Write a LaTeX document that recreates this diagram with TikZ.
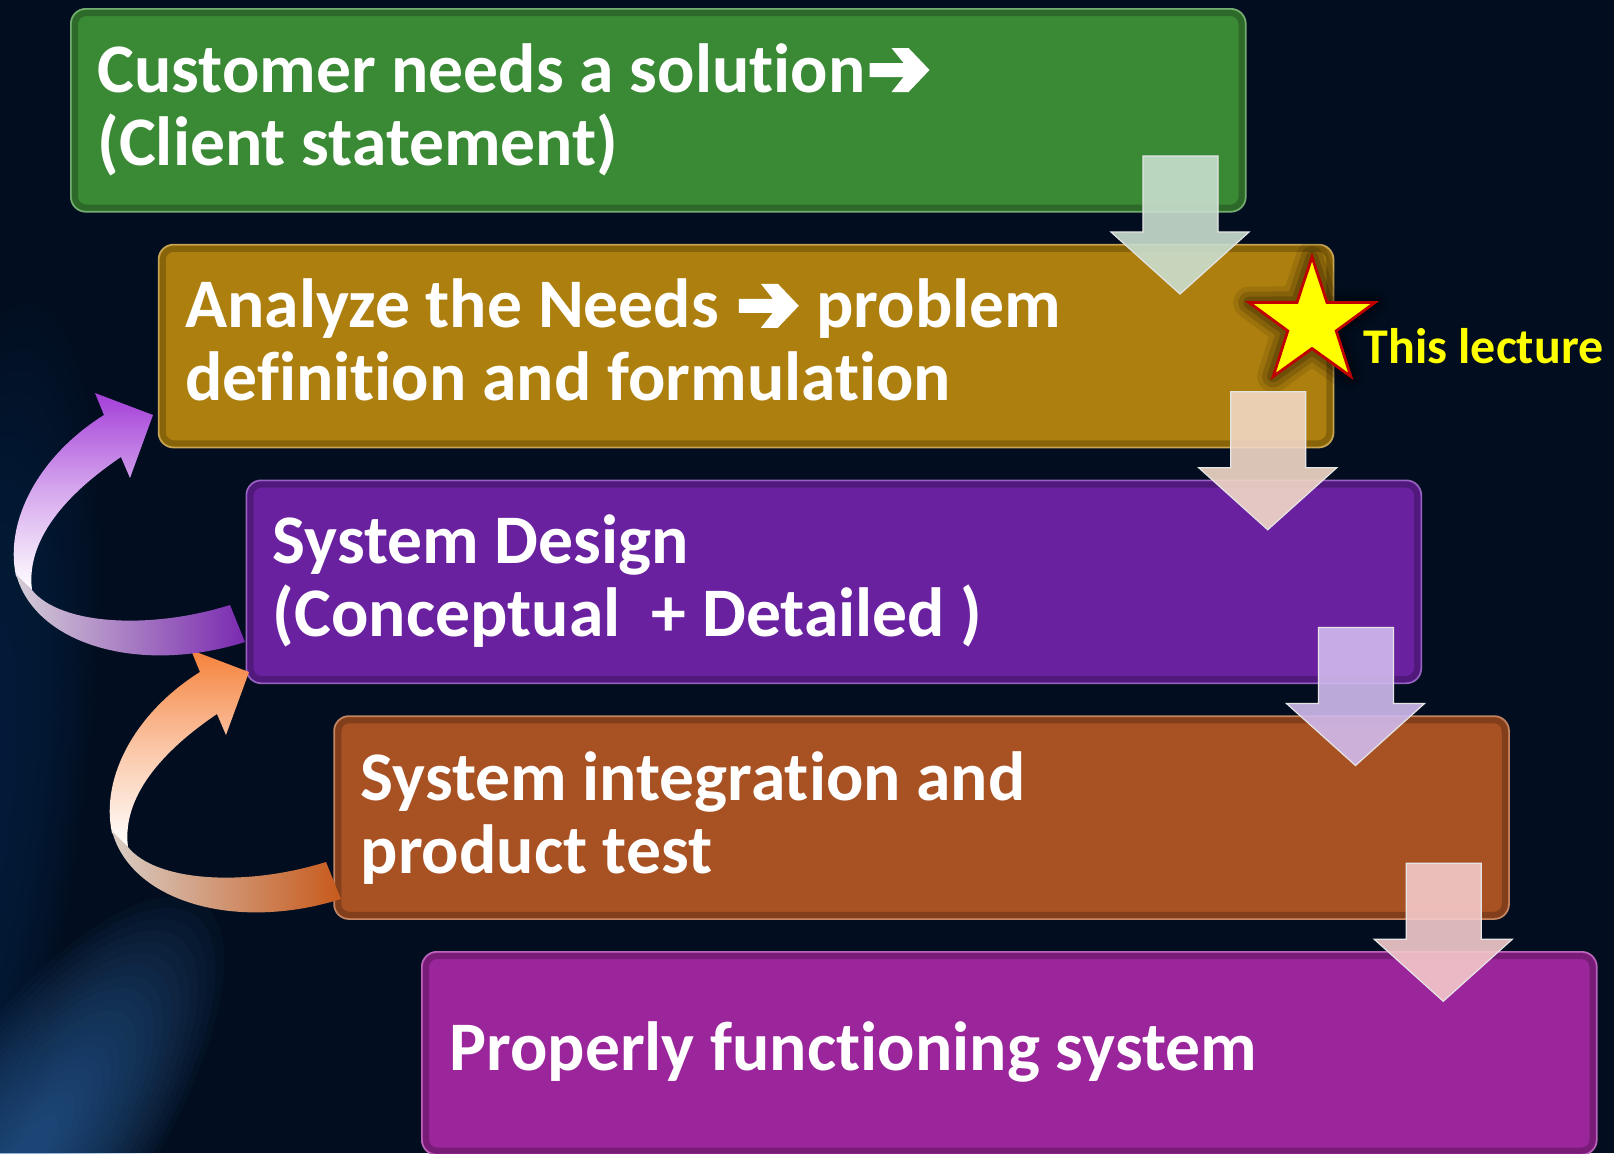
\documentclass[tikz,border=0pt]{standalone}
\usepackage{fontspec}
\setmainfont{Carlito}[Ligatures=NoCommon]
\usetikzlibrary{calc}
\definecolor{bgc}{HTML}{020E20}
\definecolor{hazeA}{HTML}{14386E}
\definecolor{hazeB}{HTML}{3C78BC}
\definecolor{cGreen}{HTML}{3A8935}
\definecolor{cGold}{HTML}{AD7F0E}
\definecolor{cPurple}{HTML}{6A21A0}
\definecolor{cRust}{HTML}{A85223}
\definecolor{cMagenta}{HTML}{9B259B}
\definecolor{aOne}{HTML}{C9DFCF}
\definecolor{aTwo}{HTML}{F2D8C6}
\definecolor{aThree}{HTML}{D0BBEE}
\definecolor{aFour}{HTML}{F4CACA}
\definecolor{pTop}{HTML}{A43FD8}
\definecolor{pLeft}{HTML}{D4CCD6}
\definecolor{pRight}{HTML}{7A2AB0}
\definecolor{oTop}{HTML}{F5823C}
\definecolor{oLeft}{HTML}{D8CCC4}
\definecolor{oRight}{HTML}{C85A1C}
\definecolor{starY}{HTML}{FFFF00}
\definecolor{starR}{HTML}{C00000}
\newcommand{\twolines}[2]{\vtop{\hbox{#1}\hbox{#2}}}
\newcommand{\thickarrow}{\kern2pt\tikz[baseline=0pt,x=1pt,y=1pt]{\fill[white]
  (0,7.5) -- (17,7.5) -- (11,0) -- (19.5,0) -- (30,11) -- (19.5,22) -- (11,22)
  -- (17,14.5) -- (0,14.5) -- cycle;}\kern1pt}
\newcommand{\loopback}[4]{%
  \begin{scope}[shift={#1}]
    \shade[top color=#2, bottom color=white, middle color=#2!45!white]
      (16,576) .. controls (4,520) and (40,455) .. (104,415)
      -- (95,393) -- (153,415) -- (130,478) -- (121,457)
      .. controls (75,488) and (25,535) .. (32,590) -- cycle;
    \shade[left color=#3, right color=#4]
      (16,574) .. controls (35,645) and (140,675) .. (245,642)
      -- (230,605) .. controls (150,630) and (60,625) .. (32,590) -- cycle;
  \end{scope}}
\tikzset{
  stepbox/.style={rectangle, rounded corners=7.5pt, minimum width=587.5pt,
    minimum height=101.5pt, inner sep=0pt, anchor=north west, fill=#1,
    draw=#1!70!white, line width=0.8pt},
  boxtext/.style={anchor=base west, inner sep=0pt, text=white,
    font=\fontsize{34.8pt}{36.5pt}\selectfont\bfseries},
  rim/.style={draw=black, line width=3pt, opacity=0.22, rounded corners=5.5pt},
  downarrow/.style={fill=#1, fill opacity=0.9, draw=white!80!gray,
    line width=0.6pt, line join=miter},
  pics/downarr/.style={code={
    \draw[downarrow=#1] (0,0) -- (75,0) -- (75,76) -- (106,76) -- (37,138)
      -- (-32,76) -- (0,76) -- cycle;}},
}
\begin{document}
\begin{tikzpicture}[x=0.5pt,y=-0.5pt]
\useasboundingbox (0,0) rectangle (1614,1153);
\fill[bgc] (0,0) rectangle (1614,1153);
% background haze
\begin{scope}
  \clip (0,0) rectangle (1614,1153);
  \foreach \i in {0,...,19} {
    \fill[hazeA, opacity=0.03, rotate around={-8:(-40,820)}]
      (-40,820) ellipse [x radius={120-5*\i}, y radius={520-22*\i}];
  }
  \foreach \i in {0,...,19} {
    \fill[hazeB, opacity=0.045, rotate around={-35:(30,1150)}]
      (30,1150) ellipse [x radius={110-5*\i}, y radius={300-13.5*\i}];
  }
\end{scope}
% boxes
\node[stepbox=cGreen]   (b1) at (70,8) {};
\node[stepbox=cGold]    (b2) at (157.75,243.75) {};
\node[stepbox=cPurple]  (b3) at (245.5,479.5) {};
\node[stepbox=cRust]    (b4) at (333.25,715.25) {};
\node[stepbox=cMagenta] (b5) at (421,951) {};
\foreach \b in {b1,b2,b3,b4,b5} {
  \draw[rim] ([shift={(5,5)}]\b.north west) rectangle ([shift={(-5,-5)}]\b.south east);
}
% star
\coordinate (sc) at (1312,323);
\foreach \w/\o in {16/0.10, 11/0.14, 6/0.18} {
  \draw[black, line width=\w pt, opacity=\o, line join=round]
    ([shift={(-90:66)}]sc) \foreach \a/\r in {-54/25.5,-18/66,18/25.5,54/66,90/25.5,126/66,162/25.5,198/66,234/25.5} { -- ([shift={(\a:\r)}]sc) } -- cycle;
}
\draw[fill=starY, draw=starR, line width=1.4pt, line join=miter]
  ([shift={(-90:66)}]sc) \foreach \a/\r in {-54/25.5,-18/66,18/25.5,54/66,90/25.5,126/66,162/25.5,198/66,234/25.5} { -- ([shift={(\a:\r)}]sc) } -- cycle;
\node[anchor=base west, inner sep=0pt, text=starY,
  font=\fontsize{25pt}{30pt}\selectfont\bfseries] (lect) at (1363,363) {This lecture};
% feedback arrows
\loopback{(96,257)}{oTop}{oLeft}{oRight}
\loopback{(0,0)}{pTop}{pLeft}{pRight}
% down arrows
\pic at (1143,156) {downarr=aOne};
\pic at (1230.75,391.75) {downarr=aTwo};
\pic at (1318.5,627.5) {downarr=aThree};
\pic at (1406.25,863.25) {downarr=aFour};
% texts
\node[boxtext] (t1) at ([shift={(27,84)}]b1.north west)
  {\twolines{Customer needs a solution\thickarrow}{(Client statement)}};
\node[boxtext] (t2) at ([shift={(27,84)}]b2.north west)
  {\twolines{Analyze the Needs \thickarrow{} problem}{definition and formulation}};
\node[boxtext] (t3) at ([shift={(27,84)}]b3.north west)
  {\twolines{System Design}{(Conceptual\ \ + Detailed~)}};
\node[boxtext] (t4) at ([shift={(27,85)}]b4.north west)
  {\twolines{System integration and}{product test}};
\node[boxtext] (t5) at ([shift={(28,119)}]b5.north west)
  {Properly functioning system};
\end{tikzpicture}
\end{document}
